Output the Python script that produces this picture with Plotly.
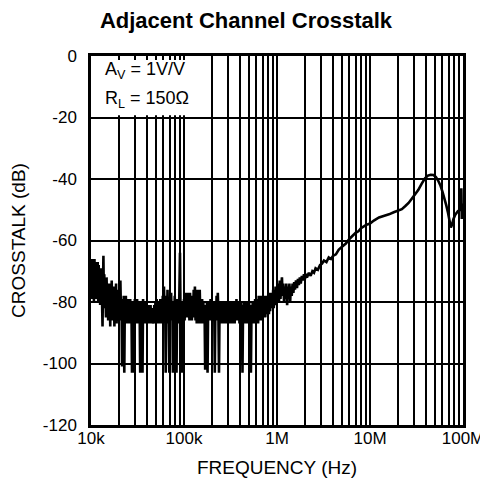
import plotly.graph_objects as go

# (frequency kHz, crosstalk dB), by frequency range
seg_10k_20k = [
    (10.0, -67), (10.15, -79), (10.3, -66), (10.45, -77), (10.6, -68), (10.75, -80), (10.9, -66),
    (11.05, -78), (11.2, -67), (11.35, -79), (11.5, -69), (11.65, -76), (11.8, -67), (11.95, -80),
    (12.1, -68), (12.25, -78), (12.4, -70), (12.55, -81), (12.7, -69), (12.85, -79), (13.0, -72),
    (13.15, -84), (13.3, -88), (13.45, -75), (13.6, -65), (13.75, -78), (13.9, -71), (14.05, -82),
    (14.2, -73), (14.35, -80), (14.5, -85), (14.7, -72), (14.9, -81), (15.1, -74), (15.3, -86),
    (15.5, -75), (15.7, -82), (15.9, -74), (16.1, -88), (16.3, -76), (16.5, -83), (16.7, -73),
    (16.9, -86), (17.1, -77), (17.35, -84), (17.6, -75), (17.85, -88), (18.1, -78), (18.35, -85),
    (18.6, -74), (18.85, -87), (19.1, -79), (19.35, -84), (19.6, -76), (19.85, -86),
]
seg_20k_100k = [
    (20.1, -78), (20.4, -86), (20.7, -73), (21.0, -84), (21.3, -80), (21.6, -101), (21.9, -79),
    (22.2, -86), (22.5, -78), (22.8, -103), (23.1, -81), (23.4, -87), (23.7, -78), (24.0, -86),
    (24.3, -80), (24.6, -87), (24.9, -79), (25.2, -85), (25.6, -81), (26.0, -87), (26.4, -79),
    (26.8, -85), (27.2, -80), (27.6, -103), (28.0, -82), (28.4, -87), (28.8, -80), (29.2, -103),
    (29.6, -79), (30.0, -86), (30.4, -80), (30.8, -87), (31.3, -79), (31.8, -86), (32.3, -81),
    (32.8, -87), (33.3, -80), (33.8, -103), (34.3, -81), (34.8, -87), (35.3, -80), (35.8, -103),
    (36.3, -79), (36.8, -86), (37.4, -81), (38.0, -87), (38.6, -80), (39.2, -86), (39.8, -82),
    (40.4, -87), (41.0, -81), (41.6, -86), (42.3, -82), (43.0, -87), (43.7, -81), (44.4, -87),
    (45.1, -82), (45.8, -87), (46.5, -86), (47.2, -87), (47.9, -81), (48.6, -87), (49.3, -80),
    (50.0, -86), (50.8, -79), (51.6, -87), (52.4, -81), (53.2, -86), (54.0, -80), (54.8, -87),
    (55.6, -79), (56.4, -86), (57.3, -80), (58.2, -87), (59.1, -78), (60.0, -86), (60.9, -75),
    (61.8, -84), (62.7, -79), (63.6, -103), (64.5, -78), (65.5, -87), (66.5, -76), (67.5, -85),
    (68.5, -80), (69.5, -103), (70.5, -79), (71.6, -86), (72.7, -77), (73.8, -85), (74.9, -80),
    (76.0, -103), (77.1, -80), (78.3, -87), (79.5, -78), (80.7, -86), (81.9, -79), (83.1, -103),
    (84.4, -80), (85.7, -87), (87.0, -79), (88.3, -85), (89.6, -72), (90.5, -64), (91.5, -80),
    (92.8, -87), (94.2, -80), (95.6, -103), (97.0, -81), (98.5, -86), (100.0, -79),
]
seg_100k_1m = [
    (101.5, -86), (103, -77), (104.6, -84), (106.2, -78), (107.8, -85), (109.4, -77), (111, -83),
    (112.7, -79), (114.4, -86), (116.1, -77), (117.9, -84), (119.7, -78), (121.5, -86), (123.3, -79),
    (125.2, -85), (127.1, -76), (129, -84), (131, -75), (133, -86), (135, -78), (137, -87),
    (139, -76), (141, -85), (143.2, -79), (145.4, -87), (147.6, -76), (149.8, -84), (152, -80),
    (154.3, -87), (156.6, -79), (159, -86), (161.4, -80), (163.8, -87), (166.3, -81), (168.8, -102),
    (171.3, -82), (173.9, -86), (176.5, -80), (179.2, -103), (181.9, -81), (184.6, -86), (187.4, -80),
    (190.2, -85), (193, -79), (195.9, -86), (198.9, -80), (201.9, -85), (204.9, -81), (208, -86),
    (211.1, -80), (214.3, -103), (217.5, -81), (220.8, -86), (224.1, -78), (227.5, -85), (230.9, -77),
    (234.4, -84), (237.9, -103), (241.5, -80), (245.1, -87), (248.8, -81), (252.5, -86), (256.3, -80),
    (260.2, -87), (264.1, -81), (268, -86), (272, -80), (276.1, -87), (280.3, -81), (284.5, -86),
    (288.8, -80), (293.1, -87), (297.5, -81), (302, -86), (306.5, -80), (311.1, -87), (315.8, -81),
    (320.5, -86), (325.3, -80), (330.2, -87), (335.2, -81), (340.2, -86), (345.3, -80), (350.5, -87),
    (355.8, -81), (361.1, -86), (366.5, -79), (372, -85), (377.6, -80), (383.3, -86), (389, -80),
    (394.9, -87), (400.8, -81), (406.8, -86), (412.9, -80), (419.1, -86), (425.4, -103), (431.8, -81),
    (438.3, -86), (444.9, -80), (451.6, -87), (458.4, -81), (465.3, -86), (472.3, -80), (479.4, -87),
    (486.6, -81), (493.9, -86), (501.3, -80), (508.8, -86), (516.4, -81), (524.1, -103), (532, -82),
    (540, -86), (548.1, -80), (556.3, -87), (564.6, -80), (573, -86), (581.6, -79), (590.3, -87),
    (599.2, -80), (608.2, -86), (617.3, -79), (626.6, -87), (636, -78), (645.5, -86), (655.2, -79),
    (665, -85), (675, -78), (685.1, -86), (695.4, -78), (705.8, -85), (716.4, -79), (727.1, -84),
    (738, -78), (749.1, -85), (760.3, -78), (771.7, -84), (783.3, -79), (795, -83), (806.9, -77),
    (819, -84), (831.3, -78), (843.8, -83), (856.5, -77), (869.3, -82), (882.3, -78), (895.5, -81),
    (909, -76), (922.6, -82), (936.4, -77), (950.4, -80), (964.7, -75), (979.2, -81), (993.9, -77),
]
seg_1m_5m = [
    (1010, -79), (1030, -74), (1050, -80), (1070, -73), (1090, -79), (1110, -75), (1130, -72),
    (1150, -78), (1170, -74), (1190, -80), (1210, -75), (1235, -79), (1260, -74), (1285, -81),
    (1310, -75), (1335, -79), (1360, -74), (1385, -80), (1410, -75), (1440, -78), (1470, -74),
    (1500, -77), (1530, -73.5), (1560, -76), (1600, -73), (1640, -75.5), (1680, -72.5),
    (1720, -74.5), (1760, -72), (1800, -74), (1850, -71.5), (1900, -73), (1950, -71),
    (2000, -72.5), (2050, -70.8), (2100, -72), (2200, -70.5), (2300, -71.5), (2400, -70),
    (2500, -70.5), (2600, -69), (2750, -69.5), (2900, -68), (3050, -67.5), (3200, -66.5),
    (3400, -67), (3600, -65.5), (3800, -66), (4000, -65), (4300, -64.5),
]
seg_5m_100m = [
    (4600, -63), (5000, -62), (5500, -61), (6000, -59.5), (6500, -58.5), (7000, -57.5),
    (7500, -57), (8000, -56), (9000, -55), (10000, -54.5), (11000, -53.5), (12500, -52.5),
    (14000, -52), (16000, -51.5), (18000, -50.8), (20000, -50.3), (22000, -49.8), (24000, -48.8),
    (26000, -47.8), (28000, -46.5), (30000, -45.3), (33000, -43.6), (36000, -41.5), (39000, -39.8),
    (42000, -38.9), (45000, -38.6), (48000, -38.7), (51000, -39.3), (54000, -40.5), (57000, -42),
    (60000, -44), (63000, -46), (66000, -48.5), (69000, -51), (72000, -54), (74000, -55.8),
    (76000, -55), (79000, -53), (83000, -51.5), (88000, -50.5), (93000, -50), (95000, -45),
    (96000, -43), (97000, -53), (99000, -48), (100000, -51),
]

all_points = seg_10k_20k + seg_20k_100k + seg_100k_1m + seg_1m_5m + seg_5m_100m
freq_hz = [p[0] * 1e3 for p in all_points]
crosstalk_db = [p[1] for p in all_points]

x_tick_vals = [m * 10 ** d for d in range(4, 8) for m in range(1, 10)] + [1e8]
x_tick_labels = {1e4: "10k", 1e5: "100k", 1e6: "1M", 1e7: "10M", 1e8: "100M"}
x_tick_text = [x_tick_labels.get(v, "") for v in x_tick_vals]
y_tick_vals = [0, -20, -40, -60, -80, -100, -120]
y_tick_text = ["0", "-20", "-40", "-60", "-80", "-100", "-120"]

FONT = "Liberation Sans, Arial, Helvetica, sans-serif"
# the page places the figure 8px from the window's top-left corner
FIG_W, FIG_H = 480, 483

fig = go.Figure()
fig.add_trace(go.Scatter(
    x=freq_hz, y=crosstalk_db, mode="lines",
    line=dict(color="black", width=2.6), showlegend=False,
))

fig.add_shape(type="rect", xref="x", yref="y", x0=1e4, x1=1.5e5, y0=-19.3, y1=-1.3,
              fillcolor="white", line=dict(width=0), layer="between")

fig.add_annotation(x=0.031, xref="paper", y=-4.6, yref="y", xanchor="left", yanchor="middle",
                   text="A<sub>V</sub> = 1V/V", showarrow=False,
                   font=dict(family=FONT, size=18, color="black"))
fig.add_annotation(x=0.031, xref="paper", y=-14.3, yref="y", xanchor="left", yanchor="middle",
                   text="R<sub>L</sub> = 150Ω", showarrow=False,
                   font=dict(family=FONT, size=18, color="black"))

fig.update_layout(
    width=FIG_W, height=FIG_H, autosize=False,
    margin=dict(l=83, r=25, t=48, b=66),
    paper_bgcolor="white", plot_bgcolor="white",
    font=dict(family=FONT, size=17, color="black"),
    title=dict(text="<b>Adjacent Channel Crosstalk</b>", x=238 / FIG_W, xref="container",
               y=1 - 12 / FIG_H, yref="container", xanchor="center", yanchor="middle",
               font=dict(family=FONT, size=22, color="black")),
)

fig.update_xaxes(
    type="log", range=[4, 8], tickmode="array", tickvals=x_tick_vals, ticktext=x_tick_text,
    showgrid=True, gridcolor="black", gridwidth=1.8,
    showline=True, linecolor="black", linewidth=2.5, mirror=True,
    ticks="", zeroline=False, automargin=False, ticklabelstandoff=-4,
    title=dict(text="FREQUENCY (Hz)", standoff=14, font=dict(family=FONT, size=19)),
    tickfont=dict(family=FONT, size=17),
)
fig.update_yaxes(
    range=[-120, 0], tickmode="array", tickvals=y_tick_vals, ticktext=y_tick_text,
    showgrid=True, gridcolor="black", gridwidth=1.8,
    showline=True, linecolor="black", linewidth=2.5, mirror=True,
    ticks="", zeroline=False, automargin=False, ticklabelstandoff=8,
    title=dict(text="CROSSTALK (dB)", standoff=18, font=dict(family=FONT, size=19)),
    tickfont=dict(family=FONT, size=17),
)

fig.write_html("out.html")
